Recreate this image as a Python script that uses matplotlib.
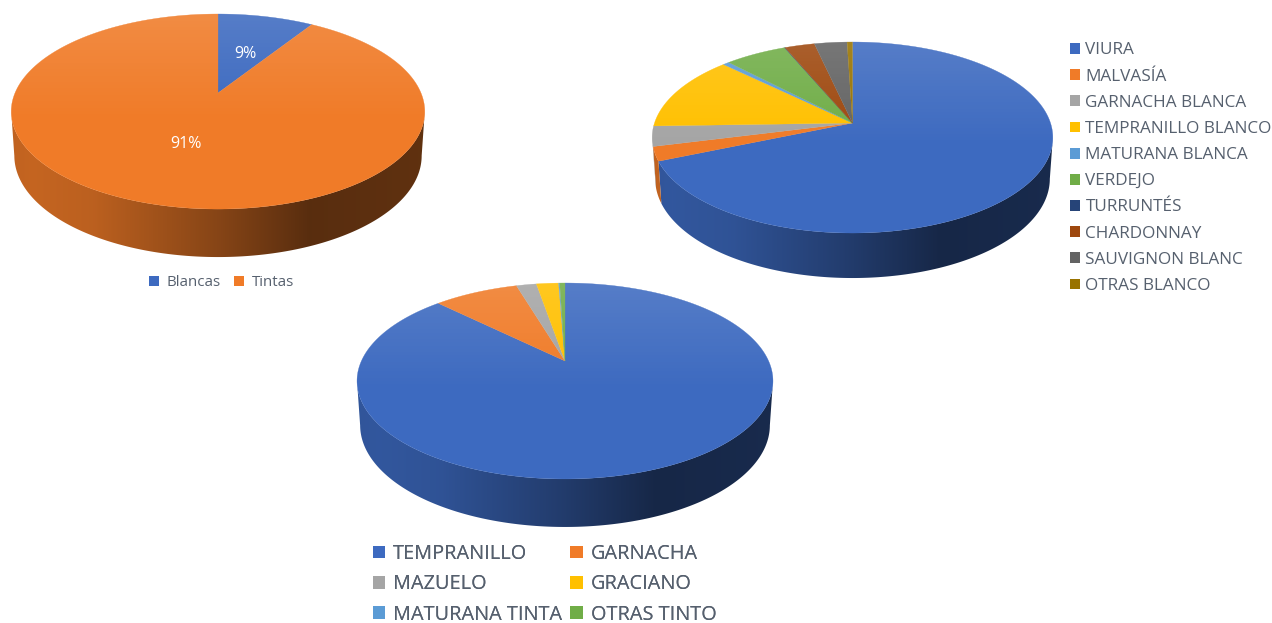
import numpy as np
import matplotlib
matplotlib.use("Agg")
import matplotlib.pyplot as plt
from matplotlib.patches import Polygon, Patch

plt.rcParams['font.family'] = ['Open Sans', 'DejaVu Sans']

# ---- data ----
tipo_labels = ['Blancas', 'Tintas']
tipo_values = [9, 91]
tipo_texts = ['9%', '91%']

blanco_labels = ['VIURA', 'MALVASÍA', 'GARNACHA BLANCA', 'TEMPRANILLO BLANCO', 'MATURANA BLANCA',
                 'VERDEJO', 'TURRUNTÉS', 'CHARDONNAY', 'SAUVIGNON BLANC', 'OTRAS BLANCO']
blanco_values = [68.7, 2.4, 3.4, 12.7, 0.6, 5.8, 0.05, 2.8, 3.05, 0.5]

tinto_labels = ['TEMPRANILLO', 'GARNACHA', 'MAZUELO', 'GRACIANO', 'MATURANA TINTA', 'OTRAS TINTO']
tinto_values = [87.4, 8.0, 1.9, 2.1, 0.1, 0.5]

colors = ['#3D6AC0', '#F07B28', '#A5A5A5', '#FFC000', '#5B9BD5', '#70AD47',
          '#264478', '#9E480E', '#636363', '#997300']
text_color = '#56606E'

W, H = 1272, 623
fig = plt.figure(figsize=(W / 100, H / 100), dpi=100)
ax = fig.add_axes([0, 0, 1, 1])
ax.set_xlim(0, W)
ax.set_ylim(H, 0)
ax.axis('off')


def pie3d(values, apex, kx, k, p, depth, side_stops):
    ax_, ay_ = apex

    def project(theta):
        x, y = np.sin(theta), np.cos(theta)
        d = 1 + p * y
        return ax_ + kx * x / d, ay_ - k * y / d

    v = np.asarray(values, float)
    edges = np.concatenate([[0], np.cumsum(v)]) / v.sum() * 2 * np.pi
    ring = np.linspace(0, 2 * np.pi, 721)
    rx, ry = project(ring)
    xmin, xmax = rx.min(), rx.max()
    ytop, ybot = ry.min(), ry.max()
    cx = (xmin + xmax) / 2

    # side wall: one clipped horizontal gradient per slice, front of the two rim extremes only
    u = np.linspace(0, 1, 512)
    fac = np.interp(u, *side_stops)
    for i, (a, b) in enumerate(zip(edges[:-1], edges[1:])):
        t = np.linspace(a, b, max(3, int((b - a) / np.radians(0.25))))
        t = t[np.cos(t) <= -p]
        if len(t) < 2:
            continue
        px, py = project(t)
        front = (1 - np.cos(t)) / 2
        bx = cx + (px - cx) * 0.985
        by = py + depth * (0.80 + 0.20 * front)
        poly = Polygon(np.column_stack([np.r_[px, bx[::-1]], np.r_[py, by[::-1]]]), closed=True,
                       facecolor='none', edgecolor='none')
        ax.add_patch(poly)
        base = np.array(matplotlib.colors.to_rgb(colors[i]))
        img = np.clip(fac[None, :, None] * base[None, None, :], 0, 1)
        im = ax.imshow(img, extent=(xmin, xmax, ybot + depth + 2, ytop), aspect='auto', zorder=2,
                       interpolation='bilinear')
        im.set_clip_path(poly)

    # top face
    for i, (a, b) in enumerate(zip(edges[:-1], edges[1:])):
        t = np.linspace(a, b, max(2, int((b - a) / np.radians(0.5))))
        px, py = project(t)
        pts = np.column_stack([np.r_[ax_, px], np.r_[ay_, py]])
        ax.add_patch(Polygon(pts, closed=True, facecolor=colors[i], edgecolor=colors[i], linewidth=0.2, zorder=3))
    top = Polygon(np.column_stack([rx, ry]), closed=True, facecolor='none', edgecolor='none')
    ax.add_patch(top)
    alpha = np.interp(np.linspace(0, 1, 128), [0, 0.55, 1], [0.13, 0.0, 0.0])
    grad = np.ones((128, 1, 4))
    grad[..., 3] = alpha[:, None]
    im = ax.imshow(grad, extent=(xmin, xmax, ybot, ytop), aspect='auto', zorder=4, interpolation='bilinear')
    im.set_clip_path(top)
    ax.set_xlim(0, W)
    ax.set_ylim(H, 0)


def legend(labels, anchor, size, ncol, spacing, colsp, hlen, hpad, order=None):
    order = list(range(len(labels))) if order is None else order
    handles = [Patch(facecolor=colors[i], edgecolor='none', label=labels[i]) for i in order]
    leg = ax.legend(handles=handles, loc='upper left', bbox_to_anchor=anchor, bbox_transform=ax.transData,
                    ncol=ncol, frameon=False, fontsize=size, labelcolor=text_color, borderpad=0, borderaxespad=0,
                    labelspacing=spacing, handlelength=hlen, handleheight=hlen, handletextpad=hpad,
                    columnspacing=colsp)
    ax.add_artist(leg)


side = ([0, 0.05, 0.2, 0.5, 0.72, 1], [0.80, 0.82, 0.78, 0.56, 0.37, 0.40])
pie3d(tipo_values, (218, 93), 203, 94, 0.19, 48, side)
pie3d(blanco_values, (852.5, 123), 198, 93.3, 0.152, 45, side)
pie3d(tinto_values, (565, 361), 203.6, 93.9, 0.204, 48, side)

ax.text(245, 54, tipo_texts[0], color='white', fontsize=11.5, ha='center', va='center', zorder=6)
ax.text(186, 144, tipo_texts[1], color='white', fontsize=11.5, ha='center', va='center', zorder=6)

legend(tipo_labels, (149, 275), 10.8, 2, 0.5, 0.9, 0.67, 0.5)
legend(blanco_labels, (1070, 42.5), 12.3, 1, 0.595, 1.0, 0.6, 0.3)
legend(tinto_labels, (373, 544), 14.3, 2, 0.52, 0.4, 0.62, 0.4, order=[0, 2, 4, 1, 3, 5])

fig.savefig('out.png', dpi=100)
